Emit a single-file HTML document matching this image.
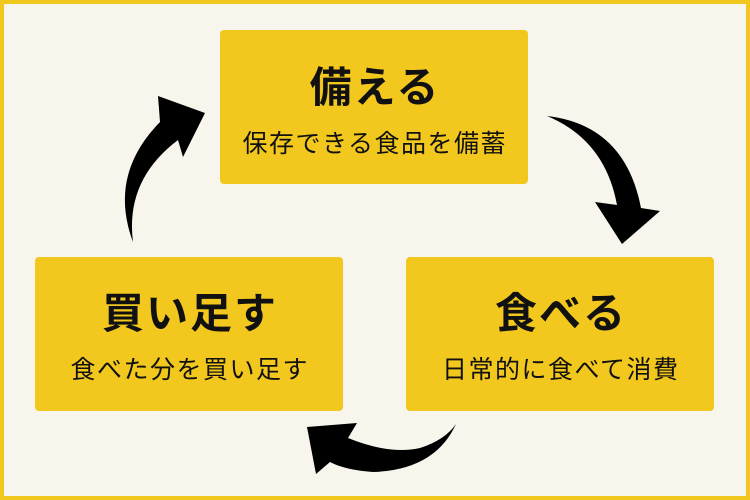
<!DOCTYPE html>
<html><head><meta charset="utf-8"><style>
body{margin:0}
.w{position:relative;width:742px;height:492px;border:4px solid #f2c81f;background:#f7f5ec;overflow:hidden;font-family:"Liberation Sans","Noto Sans CJK JP",sans-serif;color:#111}
.b{position:absolute;width:308px;height:154px;background:#f2c81f;border-radius:4px;text-align:center}
.t{position:absolute;left:0;right:0;font-size:42px;font-weight:bold;line-height:50px;letter-spacing:2px;text-indent:2px}
.s{position:absolute;left:0;right:0;font-size:25px;line-height:30px;letter-spacing:1.5px;text-indent:1.5px}
</style></head><body><div class="w">
<div class="b" style="left:216px;top:26px"><div class="t" style="top:33px">備える</div><div class="s" style="top:99px">保存できる食品を備蓄</div></div>
<div class="b" style="left:31px;top:253px"><div class="t" style="top:32px">買い足す</div><div class="s" style="top:98px">食べた分を買い足す</div></div>
<div class="b" style="left:402px;top:253px"><div class="t" style="top:32px">食べる</div><div class="s" style="top:98px">日常的に食べて消費</div></div>
<svg style="position:absolute;left:-4px;top:-4px" width="750" height="500">
<path d="M547,116 Q625,125 641,208 L660,211 L622,244 L595,202 L617,205 Q605,140 547,116Z" fill="#000"/>
<path d="M456,424 Q435,470 373,472 Q345,470 330,462 L316,474 L307,427 L357,423 L348,438 Q390,455 420,448 Q445,440 456,424Z" fill="#000"/>
<path d="M133,242 Q108,175 160,122 L158,96 L205,113 L183,157 L178,140 Q125,180 133,242Z" fill="#000"/>
</svg>
</div></body></html>
